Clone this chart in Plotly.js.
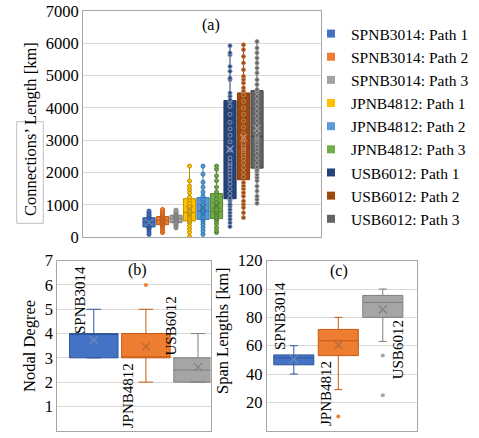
<!DOCTYPE html>
<html>
<head>
<meta charset="utf-8">
<script src="https://cdn.plot.ly/plotly-3.0.1.min.js"></script>
<style>
  html, body { margin: 0; padding: 0; background: #ffffff; }
  #chart { width: 479px; height: 438px; }
</style>
</head>
<body>
<div id="chart"></div>
<script>
// ---- (a) connection lengths per network path, km ----
const pathNames = [
  'SPNB3014: Path 1', 'SPNB3014: Path 2', 'SPNB3014: Path 3',
  'JPNB4812: Path 1', 'JPNB4812: Path 2', 'JPNB4812: Path 3',
  'USB6012: Path 1', 'USB6012: Path 2', 'USB6012: Path 3'
];
const spnbPath1 = [90, 160, 230, 280, 310, 330, 360, 400, 440, 460, 480, 500, 530, 560, 590, 620, 660, 700, 760, 810];
const spnbPath2 = [145, 220, 290, 340, 380, 400, 430, 470, 500, 520, 530, 550, 580, 600, 630, 650, 690, 740, 800, 860];
const spnbPath3 = [290, 340, 380, 420, 445, 460, 500, 540, 560, 580, 590, 610, 630, 650, 670, 690, 720, 760, 800, 840];
const jpnbPath1 = [20, 150, 250, 350, 450, 500, 510, 560, 620, 680, 720, 750, 775, 820, 880, 960, 1050, 1150, 1240, 1380, 1480, 1580, 1740, 2200];
const jpnbPath2 = [90, 200, 300, 400, 480, 540, 570, 620, 680, 730, 770, 790, 815, 860, 920, 1000, 1100, 1180, 1270, 1400, 1550, 1700, 1950, 2200];
const jpnbPath3 = [150, 200, 300, 420, 500, 560, 595, 640, 690, 740, 780, 795, 810, 880, 960, 1060, 1180, 1300, 1400, 1550, 1750, 1900, 2100, 2200];
const usbPath1 = [330, 450, 560, 660, 760, 860, 960, 1020, 1120, 1170, 1215, 1350, 1500, 1650, 1780, 1900, 2000, 2100, 2200, 2280,
                  2330, 2450, 2700, 2950, 3150, 3350, 3550, 3800, 4050, 4200, 4250, 4360, 4460, 4870, 4920, 5130, 5280, 5640, 5700, 5920];
const usbPath2 = [607, 760, 920, 1020, 1120, 1270, 1380, 1500, 1590, 1690, 1870, 2000, 2150, 2300, 2420, 2520, 2600, 2680, 2740, 2780,
                  2815, 2900, 3050, 3200, 3400, 3600, 3800, 4000, 4200, 4400, 4525, 4620, 4770, 4875, 4975, 5180, 5390, 5590, 5800, 5950];
const usbPath3 = [1050, 1170, 1270, 1430, 1580, 1750, 1850, 1940, 2040, 2100, 2175, 2300, 2450, 2600, 2720, 2820, 2920, 3000, 3060, 3100,
                  3150, 3300, 3450, 3600, 3750, 3900, 4050, 4200, 4350, 4500, 4565, 4720, 4870, 5080, 5230, 5390, 5540, 5700, 5850, 6050];
const pathLengths = [spnbPath1, spnbPath2, spnbPath3, jpnbPath1, jpnbPath2, jpnbPath3, usbPath1, usbPath2, usbPath3];

// ---- (b) nodal degree and (c) span lengths per network ----
const networks = ['SPNB3014', 'JPNB4812', 'USB6012'];
const degreeSPNB = [3, 3, 3, 3, 3, 3, 3, 3, 3, 3,
                    4, 4, 4, 4, 4, 4, 4, 4, 4, 4, 4, 4, 4, 4, 4, 4, 4, 4,
                    5, 5];
const degreeJPNB = [2, 2, 2, 2, 2,
                    3, 3, 3, 3, 3, 3, 3, 3, 3, 3, 3, 3, 3, 3, 3, 3, 3, 3, 3, 3, 3,
                    4, 4, 4, 4, 4, 4, 4, 4, 4, 4, 4, 4, 4, 4, 4, 4, 4, 4,
                    5, 5, 5,
                    6];
const degreeUSB = [2, 2, 2, 2, 2, 2, 2, 2, 2, 2, 2, 2, 2, 2, 2, 2, 2, 2, 2, 2, 2, 2, 2, 2, 2, 2, 2, 2, 2, 2,
                   3, 3, 3, 3, 3, 3, 3, 3, 3, 3, 3, 3, 3, 3, 3, 3, 3, 3, 3, 3, 3, 3, 3,
                   4, 4, 4, 4, 4, 4, 4];
const spanSPNB = [40, 42, 45, 46, 47, 49, 50, 51, 52, 52, 53, 53, 54, 56, 58, 60];
const spanJPNB = [10, 29, 48, 50, 52, 54, 57, 60, 62, 63, 64, 67, 69, 70, 71, 72, 75, 78, 79, 80];
const spanUSB = [25, 53, 63, 70, 76, 78, 79, 81, 84, 86, 88, 89, 90, 90,
                 91, 92, 93, 94, 95, 95, 95, 96, 97, 98, 98, 99, 100, 100];
const degreeSets = [degreeSPNB, degreeJPNB, degreeUSB];
const spanSets = [spanSPNB, spanJPNB, spanUSB];

// ---- styling ----
const fills = ['#4472C4', '#ED7D31', '#A5A5A5', '#FFC000', '#5B9BD5', '#70AD47', '#264478', '#9E480E', '#636363'];
const edges = ['#2F5597', '#C55A11', '#7F7F7F', '#BF9000', '#2E75B6', '#548235', '#1F3864', '#843C0C', '#404040'];
const dotEdges = ['#2F5597', '#C55A11', '#7F7F7F', '#BF9000', '#2E75B6', '#548235', '#7F92B8', '#C98A60', '#9A9A9A'];
const meanColors = ['#6F86B8', '#B86B3A', '#808080', '#B8962E', '#3F6F9E', '#4F7A33', '#8EA0C4', '#C98A60', '#A0A0A0'];
const FONT = '"Liberation Serif", "Times New Roman", serif';
const W = 479, H = 438;
const px = v => v / W;
const py = v => 1 - v / H;
const mean = arr => arr.reduce((s, v) => s + v, 0) / arr.length;

const traces = [];

// (a) one box per path, every sample drawn on the box centre line
pathLengths.forEach((vals, i) => {
  traces.push({
    type: 'box', y: vals, x0: i + 1, width: 0.9,
    xaxis: 'x', yaxis: 'y',
    quartilemethod: 'exclusive',
    boxpoints: 'all', jitter: 0, pointpos: 0,
    fillcolor: fills[i],
    line: { color: edges[i], width: 1 },
    whiskerwidth: 0.3,
    marker: { color: fills[i], size: 4, line: { color: dotEdges[i], width: 1 } },
    showlegend: false, hoverinfo: 'skip'
  });
  traces.push({
    type: 'scatter', mode: 'markers', x: [i + 1], y: [mean(vals)],
    xaxis: 'x', yaxis: 'y',
    marker: { symbol: 'x-thin-open', size: 7, color: meanColors[i], line: { color: meanColors[i], width: 1.2 } },
    showlegend: false, hoverinfo: 'skip'
  });
});

// legend entries for the nine paths
pathNames.forEach((name, i) => {
  traces.push({
    type: 'scatter', mode: 'markers', x: [null], y: [null], name: name,
    xaxis: 'x', yaxis: 'y',
    marker: { symbol: 'square', size: 8, color: fills[i] },
    hoverinfo: 'skip'
  });
});

// (b) nodal degree, (c) span lengths
[[degreeSets, 'x2', 'y2', 0.93, 0.3], [spanSets, 'x3', 'y3', 0.9, 0.2]].forEach(([sets, xa, ya, w, ww]) => {
  sets.forEach((vals, i) => {
    traces.push({
      type: 'box', y: vals, x0: i + 1, width: w, name: networks[i],
      xaxis: xa, yaxis: ya,
      quartilemethod: 'exclusive',
      boxpoints: 'outliers', jitter: 0, pointpos: 0,
      fillcolor: fills[i],
      line: { color: edges[i], width: 1 },
      whiskerwidth: ww,
      marker: { color: fills[i], size: 4 },
      showlegend: false, hoverinfo: 'skip'
    });
    traces.push({
      type: 'scatter', mode: 'markers', x: [i + 1], y: [mean(vals)],
      xaxis: xa, yaxis: ya,
      marker: { symbol: 'x-thin-open', size: 8, color: meanColors[i], line: { color: meanColors[i], width: 1.2 } },
      showlegend: false, hoverinfo: 'skip'
    });
  });
});

const axisBase = {
  showline: true, mirror: true, linecolor: '#A6A6A6', linewidth: 1,
  ticks: '', zeroline: false, fixedrange: true
};
const xBase = Object.assign({}, axisBase, { showgrid: false, showticklabels: false });
const yBase = Object.assign({}, axisBase, {
  showgrid: true, gridcolor: '#D9D9D9', gridwidth: 1,
  tickfont: { family: FONT, size: 16.5, color: '#000' }
});

const txt = (text, x, y, opts) => Object.assign({
  text: text, xref: 'paper', yref: 'paper', x: px(x), y: py(y),
  xanchor: 'center', yanchor: 'middle', showarrow: false,
  font: { family: FONT, size: 16, color: '#000' }
}, opts || {});
const vfont = { family: FONT, size: 15, color: '#000' };
const tfont = { family: FONT, size: 16.5, color: '#000' };

const layout = {
  width: W, height: H,
  margin: { l: 0, r: 0, t: 0, b: 0, autoexpand: false },
  paper_bgcolor: '#ffffff', plot_bgcolor: '#ffffff',
  showlegend: true,
  legend: {
    x: px(311), y: py(17), xanchor: 'left', yanchor: 'top',
    font: { family: FONT, size: 15.5, color: '#000' },
    bgcolor: 'rgba(0,0,0,0)', borderwidth: 0, traceorder: 'normal'
  },
  xaxis: Object.assign({}, xBase, { domain: [px(83), px(321)], range: [-3.89, 13.74], anchor: 'y' }),
  yaxis: Object.assign({}, yBase, { domain: [py(237.3), py(10.8)], range: [0, 7000], dtick: 1000, anchor: 'x' }),
  xaxis2: Object.assign({}, xBase, { domain: [px(57.3), px(210.7)], range: [0.30, 3.243], anchor: 'y2' }),
  yaxis2: Object.assign({}, yBase, { domain: [py(430.7), py(260.7)], range: [0, 7], dtick: 1, anchor: 'x2' }),
  xaxis3: Object.assign({}, xBase, { domain: [px(266.7), px(416.7)], range: [0.391, 3.762], anchor: 'y3' }),
  yaxis3: Object.assign({}, yBase, { domain: [py(430.7), py(260.7)], range: [0, 120], dtick: 20, anchor: 'x3' }),
  shapes: [
    { type: 'rect', xref: 'paper', yref: 'paper',
      x0: px(16.7), x1: px(43.3), y0: py(223.3), y1: py(121.7),
      line: { color: '#BFBFBF', width: 1 } }
  ],
  annotations: [
    txt('(a)', 211, 25),
    txt('(b)', 137.7, 270),
    txt('(c)', 339, 271),
    txt('Connections’ Length [km]', 30, 129, { textangle: -90, font: tfont }),
    txt('Nodal Degree', 29, 346, { textangle: -90, font: tfont }),
    txt('Span Lengths [km]', 222, 331, { textangle: -90, font: tfont }),
    txt(networks[0], 80, 300, { textangle: -90, font: vfont }),
    txt(networks[1], 128.3, 396, { textangle: -90, font: vfont }),
    txt(networks[2], 170, 326.5, { textangle: -90, font: vfont }),
    txt(networks[0], 280, 316, { textangle: -90, font: vfont }),
    txt(networks[1], 326, 394, { textangle: -90, font: vfont }),
    txt(networks[2], 398.3, 350, { textangle: -90, font: vfont })
  ]
};

Plotly.newPlot('chart', traces, layout, { staticPlot: true, displayModeBar: false });
</script>
</body>
</html>
